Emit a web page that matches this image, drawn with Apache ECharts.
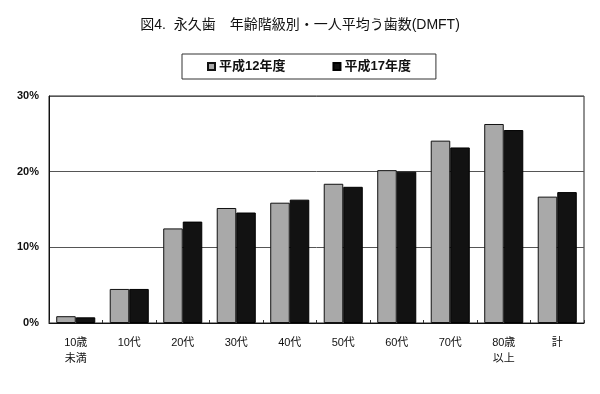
<!DOCTYPE html>
<html><head><meta charset="utf-8">
<script src="https://cdn.jsdelivr.net/npm/echarts@6/dist/echarts.min.js"></script>
<style>html,body{margin:0;padding:0;background:#fff}#c{width:600px;height:394px}</style>
</head><body><div id="c"></div>
<script>
const categories = ['10歳\n未満','10代','20代','30代','40代','50代','60代','70代','80歳\n以上','計'];
const seriesNames = ['平成12年度','平成17年度'];
const h12 = [0.9, 4.5, 12.5, 15.2, 15.9, 18.4, 20.2, 24.1, 26.3, 16.7];
const h17 = [0.75, 4.5, 13.4, 14.6, 16.3, 18.0, 20.0, 23.2, 25.5, 17.3];
const yTicks = [0, 10, 20, 30];

const font = '"Liberation Sans","Noto Sans CJK JP",sans-serif';
const chart = echarts.init(document.getElementById('c'));
chart.setOption({
  animation: false,
  backgroundColor: '#fff',
  title: {
    text: '図4.  永久歯　年齢階級別・一人平均う歯数(DMFT)',
    left: 'center', top: 13,
    textStyle: {fontFamily: font, fontSize: 14, fontWeight: 'normal', color: '#111'}
  },
  legend: {
    data: seriesNames,
    left: 182, top: 54,
    padding: [6, 25, 6, 25],
    itemGap: 47,
    borderColor: '#333', borderWidth: 1,
    icon: 'rect', itemWidth: 7, itemHeight: 7,
    textStyle: {fontFamily: font, fontSize: 13, fontWeight: 'bold', color: '#111', padding: [0,0,0,-1]}
  },
  grid: {left: 49, right: 16, top: 96, bottom: 71, show: true, borderColor: '#222', borderWidth: 1},
  xAxis: {
    type: 'category', data: categories,
    axisLine: {lineStyle: {color: '#111'}},
    axisTick: {show: true, inside: true, length: 3, lineStyle: {color: '#333'}},
    axisLabel: {fontFamily: font, fontSize: 11, color: '#111', margin: 12, lineHeight: 16}
  },
  yAxis: {
    type: 'value', min: 0, max: 30, interval: 10,
    axisLine: {show: true, lineStyle: {color: '#111'}},
    axisTick: {show: false},
    splitLine: {lineStyle: {color: '#555', width: 1}},
    axisLabel: {fontFamily: font, fontSize: 11, fontWeight: 'bold', color: '#111', margin: 10,
      formatter: v => yTicks.includes(v) ? v + '%' : ''}
  },
  series: [
    {name: seriesNames[0], type: 'bar', data: h12, barGap: '0%', barCategoryGap: '27%',
     itemStyle: {color: '#a9a9a9', borderColor: '#111', borderWidth: 1}},
    {name: seriesNames[1], type: 'bar', data: h17,
     itemStyle: {color: '#121212', borderColor: '#000', borderWidth: 1}}
  ]
});
</script></body></html>
